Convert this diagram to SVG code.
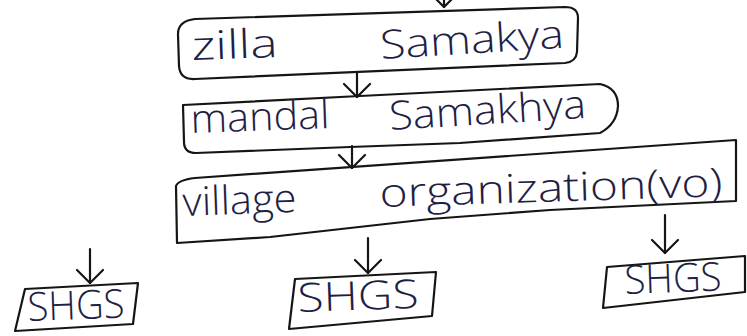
<svg xmlns="http://www.w3.org/2000/svg" width="747" height="336" viewBox="0 0 747 336">
  <defs>
    <style>
      .box { fill: none; stroke: #151515; stroke-width: 2.2; stroke-linejoin: round; stroke-linecap: round; }
      .ink { fill: #1f1f45; font-family: "Open Sans", "Liberation Sans", Arial, sans-serif; font-weight: 300; font-size: 40px; }
      .link { fill: none; stroke: #151515; stroke-width: 2.2; stroke-linecap: round; marker-end: url(#head); }
    </style>
    <marker id="head" markerUnits="userSpaceOnUse" viewBox="-16 -16 20 32" refX="0" refY="0" markerWidth="20" markerHeight="32" orient="auto" overflow="visible">
      <path d="M -13 -13 L 0 0 L -13 13" fill="none" stroke="#151515" stroke-width="2.2" stroke-linecap="round" stroke-linejoin="round"/>
    </marker>
  </defs>

  <rect width="747" height="336" fill="#ffffff"/>

  <g id="connectors">
    <path class="link" d="M 444 -6 L 444 7"/>
    <path class="link" d="M 357 72 L 357 97"/>
    <path class="link" d="M 352 146 L 352 168"/>
    <path class="link" d="M 90 249 L 90 283"/>
    <path class="link" d="M 368 238 L 368 273"/>
    <path class="link" d="M 665 215 L 665 253"/>
  </g>

  <g id="zilla-samakya">
    <path class="box" d="M 195 19 L 565 7 Q 578 7 578 18 L 577 52 Q 576 62 565 63 L 195 79 Q 180 80 179 66 L 178 34 Q 178 21 195 19 Z"/>
    <text class="ink" x="192" y="60" textLength="86" lengthAdjust="spacingAndGlyphs" transform="rotate(-2 192 60)">zilla</text>
    <text class="ink" x="381" y="59" font-size="38" textLength="184" lengthAdjust="spacingAndGlyphs" transform="rotate(-3.5 381 59)">Samakya</text>
  </g>

  <g id="mandal-samakhya">
    <path class="box" d="M 183 105 L 360 96 L 600 84 Q 618 88 618 106 Q 617 124 600 133 L 460 143 L 350 147 L 196 153 Q 184 153 184 142 Z"/>
    <text class="ink" x="191" y="133" textLength="139" lengthAdjust="spacingAndGlyphs" transform="rotate(-2 191 133)">mandal</text>
    <text class="ink" x="390" y="130" textLength="197" lengthAdjust="spacingAndGlyphs" transform="rotate(-3.5 390 130)">Samakhya</text>
  </g>

  <g id="village-organization">
    <path class="box" d="M 177 243 L 176 186 Q 178 180 195 178 L 736 140 L 736 201 L 550 210 L 430 219 L 270 237 Z"/>
    <text class="ink" x="183" y="216" textLength="114" lengthAdjust="spacingAndGlyphs" transform="rotate(-2 183 216)">village</text>
    <text class="ink" x="380" y="207" font-size="42" textLength="343" lengthAdjust="spacingAndGlyphs" transform="rotate(-1.8 380 207)">organization(vo)</text>
  </g>

  <g id="shgs-left">
    <path class="box" d="M 25 289 L 138 283 L 133 324 L 15 331 Z"/>
    <text class="ink" x="28" y="321" font-size="38" textLength="97" lengthAdjust="spacingAndGlyphs" transform="rotate(-2 28 321)">SHGS</text>
  </g>

  <g id="shgs-middle">
    <path class="box" d="M 295 279 L 436 272 L 432 316 L 289 329 Z"/>
    <text class="ink" x="298" y="312" font-size="38" textLength="121" lengthAdjust="spacingAndGlyphs" transform="rotate(-2 298 312)">SHGS</text>
  </g>

  <g id="shgs-right">
    <path class="box" d="M 607 267 L 745 256 L 745 292 L 603 308 Z"/>
    <text class="ink" x="625" y="294" font-size="38" textLength="97" lengthAdjust="spacingAndGlyphs" transform="rotate(-2 625 294)">SHGS</text>
  </g>
</svg>
